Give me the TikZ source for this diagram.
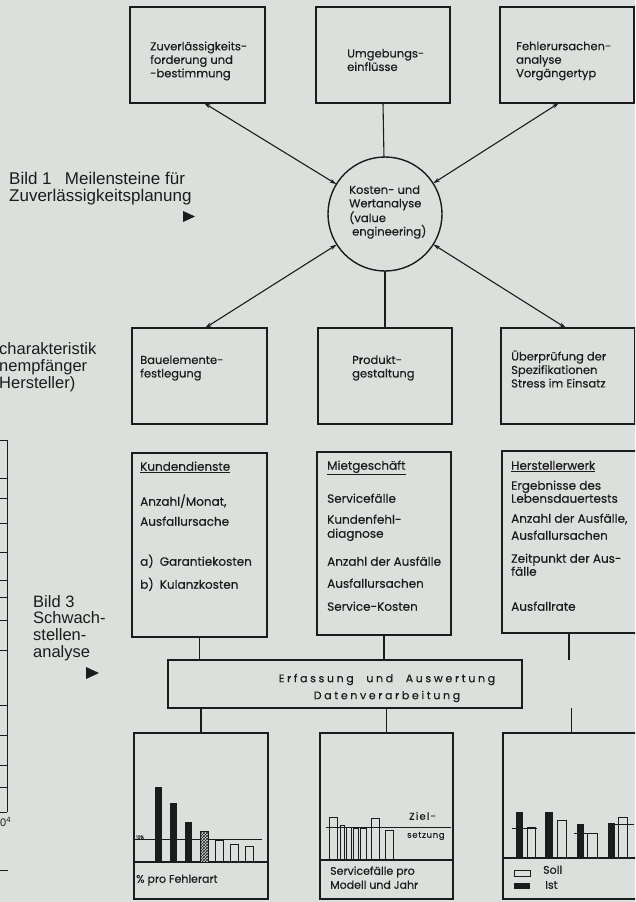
\documentclass[tikz,border=0pt]{standalone}
\usepackage{fontspec}
\setmainfont{Poppins}[FakeBold=0.3]
\newfontfamily\capfont{Liberation Sans}
\usetikzlibrary{arrows.meta,patterns}
\definecolor{bg}{RGB}{220,224,220}
\definecolor{ink}{RGB}{28,28,28}
\begin{document}
\begin{tikzpicture}[x=1pt,y=-1pt,
  box/.style={draw=ink,line width=1.4pt,inner sep=0pt,outer sep=0pt},
  conn/.style={draw=ink,line width=1.1pt},
  darr/.style={conn,{Stealth[length=7pt,width=4pt]}-{Stealth[length=7pt,width=4pt]}},
  tA/.style={anchor=west,align=left,inner sep=0pt,text=ink,font=\fontsize{11.5}{13.5}\selectfont},
  tI/.style={anchor=mid west,inner sep=0pt,text=ink,font=\fontsize{12}{14}\selectfont},
  tS/.style={anchor=mid west,inner sep=0pt,text=ink,font=\fontsize{11}{13}\selectfont},
  captxt/.style={anchor=west,align=left,inner sep=0pt,text=ink,font=\capfont\fontsize{16.5}{16.8}\selectfont},
  openbar/.style={draw=ink,line width=0.9pt},
  rule/.style={draw=ink,line width=0.9pt}
]
\useasboundingbox (0,0) rectangle (635,902);
\fill[bg] (0,0) rectangle (635,902);
\clip (0,0) rectangle (635,902);

% top row
\node[box,minimum width=135,minimum height=96] (b1) at (197.5,55) {};
\node[box,minimum width=134,minimum height=96] (b2) at (383,55) {};
\node[box,minimum width=134,minimum height=96] (b3) at (567,55) {};
\node[tA] (t1) at (150,61) {Zuverlässigkeits-\\forderung und\\-bestimmung};
\node[tA] (t2) at (347,60) {Umgebungs-\\einflüsse};
\node[tA] (t3) at (516,61) {Fehlerursachen-\\analyse\\Vorgängertyp};

% circle
\node[box,circle,minimum size=114] (c) at (385,214) {};
\node[tA] (tc) at (349,212) {Kosten- und\\Wertanalyse\\(value\\\hspace*{3pt}engineering)};

% middle row
\node[box,minimum width=135,minimum height=96] (m4) at (199.5,376) {};
\node[box,minimum width=134,minimum height=96] (m5) at (385,376) {};
\node[box,minimum width=134,minimum height=96] (m6) at (568,376) {};
\node[tA] (t4) at (140,368) {Bauelemente-\\festlegung};
\node[tA] (t5) at (352,368) {Produkt-\\gestaltung};
\node[tA] (t6) at (511,369) {Überprüfung der\\Spezifikationen\\Stress im Einsatz};

% connectors around circle
\draw[darr] ([xshift=6.5pt]b1.south) -- (c);
\draw[darr] ([xshift=-8pt]b3.south) -- (c);
\draw[conn] (b2.south) -- (c);
\draw[darr] ([xshift=5.5pt]m4.north) -- (c);
\draw[darr] ([xshift=-2pt]m6.north) -- (c);
\draw[conn] (m5.north) -- (c);

% captions
\node[captxt,font=\capfont\fontsize{17}{17}\selectfont] (cap1) at (9,189) {Bild 1\enspace\ Meilensteine für\\Zuverlässigkeitsplanung};
\fill[ink] (183,211) -- (195,216.5) -- (183,222) -- cycle;
\node[captxt] (cap2) at (-1,367) {charakteristik\\nempfänger\\Hersteller)};
\node[captxt] (cap3) at (33,628) {Bild 3\\Schwach-\\stellen-\\analyse};
\fill[ink] (86,667) -- (99,673) -- (86,679) -- cycle;

% left partial grid
\draw[rule] (7,440) -- (7,812);
\foreach \yy in {440,478,498,523,552,580,597,620,650,705,735,765,787,812}
  \draw[rule] (-1,\yy) -- (7,\yy);
\node[anchor=west,inner sep=0pt,text=ink,font=\capfont\fontsize{11}{12}\selectfont] (p4) at (0,822) {0\textsuperscript{4}};
\draw[rule] (-1,870) -- (8,870);

% info boxes
\node[box,minimum width=135,minimum height=184] (i7) at (199.5,545) {};
\node[box,minimum width=134,minimum height=183] (i8) at (384,543.5) {};
\node[box,minimum width=138,minimum height=182] (i9) at (571,542) {};

\node[tI] (k1) at (140,468) {\underline{Kundendienste}};
\node[tI] (k2) at (140,503) {Anzahl/Monat,};
\node[tI] (k3) at (140,523) {Ausfallursache};
\node[tI] (k4) at (140,563) {a)\enspace Garantiekosten};
\node[tI] (k5) at (140,586) {b)\enspace Kulanzkosten};

\node[tI] (g1) at (327,467) {\underline{Mietgeschäft}};
\node[tI] (g2) at (327,500) {Servicefälle};
\node[tI] (g3) at (327,521) {Kundenfehl-};
\node[tI] (g4) at (327,535) {diagnose};
\node[tI] (g5) at (327,563) {Anzahl der Ausfälle};
\node[tI] (g6) at (327,585) {Ausfallursachen};
\node[tI] (g7) at (327,608) {Service-Kosten};

\node[tI] (h1) at (511,467) {\underline{Herstellerwerk}};
\node[tI] (h2) at (511,487) {Ergebnisse des};
\node[tI] (h3) at (511,500) {Lebensdauertests};
\node[tI] (h4) at (511,520) {Anzahl der Ausfälle,};
\node[tI] (h5) at (511,537) {Ausfallursachen};
\node[tI] (h6) at (511,560) {Zeitpunkt der Aus-};
\node[tI] (h7) at (511,573) {fälle};
\node[tI] (h8) at (511,608) {Ausfallrate};
\draw[box] (i8.north east) -- (i8.south east);

% processing box
\node[box,minimum width=354,minimum height=48] (E) at (345,684) {};
\node[anchor=center,align=center,inner sep=0pt,text=ink,font=\fontsize{11}{17}\selectfont\addfontfeature{LetterSpace=24}] (Et) at (387,688) {Erfassung\hspace{7pt} und\hspace{7pt} Auswertung\\Datenverarbeitung};

\draw[conn] (i7.south) -- (i7.south |- E.north);
\draw[conn] (i8.south) -- (i8.south |- E.north);
\draw[conn] ([xshift=-2pt]i9.south) -- ([xshift=-2pt]i9.south |- E.north);

% chart boxes
\node[box,minimum width=134,minimum height=166] (k10) at (201,816) {};
\node[box,minimum width=133,minimum height=166] (k11) at (386.5,816) {};
\node[box,minimum width=137,minimum height=166] (k12) at (571.5,816) {};
\draw[conn] (k10.north |- E.south) -- (k10.north);
\draw[conn] (k11.north |- E.south) -- (k11.north);
\draw[conn] (k12.north |- E.south) -- (k12.north);

% chart 10
\draw[box] (134,862) -- (268,862);
\draw[draw=ink,line width=0.7pt] (134,839) -- (262,839);
\node[anchor=mid west,inner sep=0pt,text=ink,font=\fontsize{4.5}{5}\selectfont] (pc) at (136,836) {10\%};
\fill[ink] (155,787) rectangle (162,862);
\fill[ink] (170,803) rectangle (177,862);
\fill[ink] (185,822) rectangle (192,862);
\fill[bg] (200,831) rectangle (208,862);
\draw[ink,line width=0.8pt,pattern=crosshatch,pattern color=ink] (200,831) rectangle (208,862);
\fill[bg] (215,840) rectangle (223,861);
\draw[openbar] (215,862) -- (215,840) -- (223,840) -- (223,862);
\fill[bg] (230,844) rectangle (238,861);
\draw[openbar] (230,862) -- (230,844) -- (238,844) -- (238,862);
\fill[bg] (245,846) rectangle (253,861);
\draw[openbar] (245,862) -- (245,846) -- (253,846) -- (253,862);
\node[tS] (cp10) at (136,880) {\% pro Fehlerart};

% chart 11
\draw[box] (320,860) -- (453,860);
\draw[draw=ink,line width=0.8pt] (326,827) -- (451,827);
\foreach \xa/\xb/\yt in {329/337/817,340/344/825,346/351/827,353/358/828,360/366/828,371/379/818,385/393/830}
  \draw[openbar] (\xa,860) -- (\xa,\yt) -- (\xb,\yt) -- (\xb,860);
\node[tS,font=\fontsize{10}{11}\selectfont\addfontfeature{LetterSpace=12}] (z1) at (409,817) {Ziel-};
\node[tS,font=\fontsize{8.5}{11}\selectfont\addfontfeature{LetterSpace=8}] (z2) at (407,835) {setzung};
\node[tS] (cp11a) at (330,872) {Servicefälle pro};
\node[tS] (cp11b) at (330,886) {Modell und Jahr};

% chart 12
\draw[box] (503,858) -- (640,858);
\fill[ink] (516,812) rectangle (523,858);
\draw[openbar] (527,858) -- (527,827) -- (535,827) -- (535,858);
\draw[openbar] (512,828) -- (537,828);
\fill[ink] (545,812) rectangle (553,858);
\draw[openbar] (557,858) -- (557,820) -- (566,820) -- (566,858);
\fill[ink] (577,824) rectangle (584,858);
\draw[openbar] (587,858) -- (587,833) -- (597,833) -- (597,858);
\draw[openbar] (574,833) -- (598,833);
\fill[ink] (608,823) rectangle (615,858);
\draw[openbar] (618,858) -- (618,817) -- (627,817) -- (627,858);
\draw[openbar] (615,824) -- (634,824);
\draw[openbar] (514,870) rectangle (530,876);
\fill[ink] (514,883) rectangle (530,889);
\node[tS] (soll) at (543,871) {Soll};
\node[tS] (ist) at (545,886) {Ist};
\end{tikzpicture}
\end{document}
